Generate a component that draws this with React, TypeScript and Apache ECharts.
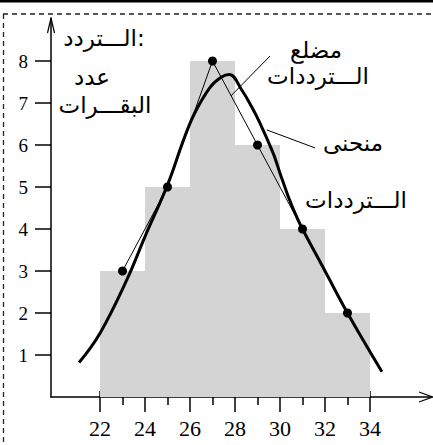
import React, { useEffect, useRef } from "react";
import * as echarts from "echarts";

// Histogram classes (cattle weights) and frequencies
const classStarts = [22, 24, 26, 28, 30, 32];
const classEnds = [24, 26, 28, 30, 32, 34];
const frequencies = [3, 5, 8, 6, 4, 2];
// Frequency polygon points (class midpoints)
const midpoints = [23, 25, 27, 29, 31, 33];
// Frequency curve (hand drawn smooth curve)
const curveX = [21.07, 22.0, 23.2, 24.0, 25.0, 25.7, 26.2, 26.9, 27.4, 27.75, 28.3, 28.74, 29.11, 29.7, 30.0, 30.37, 30.74, 31.0, 32.0, 33.0, 34.53];
const curveY = [0.82, 1.52, 2.8, 3.82, 5.05, 6.1, 6.75, 7.38, 7.62, 7.68, 7.31, 6.91, 6.52, 5.8, 5.33, 4.77, 4.29, 4.0, 3.0, 2.0, 0.6];
// Ticks
const xMajorTicks = [22, 24, 26, 28, 30, 32, 34];
const xMinorTicks = [23, 25, 27, 29, 31, 33];
const yTicks = [1, 2, 3, 4, 5, 6, 7, 8];
// Annotation texts
const yAxisTitle = ["الـــتردد:", "عدد", "البقـــرات"];
const polygonLabel = ["مضلع", "الـــترددات"];
const curveLabel = ["منحنى", "الـــترددات"];
// Pointer lines (data coordinates)
const polygonPointer = [[29.56, 8.12], [27.82, 7.17]];
const curvePointer = [[29.41, 6.36], [31.56, 5.93]];

const X_MIN = 19.822;
const X_MAX = 36.756;
const Y_MAX = 9.024;
const SERIF = "'Liberation Serif', 'Times New Roman', 'DejaVu Serif', serif";

export default function App() {
  const ref = useRef<HTMLDivElement>(null);
  useEffect(() => {
    if (!ref.current) return;
    const chart = echarts.init(ref.current, null, { renderer: "svg" });
    const txt = (text: string, x: number, y: number) => ({
      type: "text",
      style: {
        text, x, y, align: "center", verticalAlign: "middle",
        fontSize: 23, fontFamily: "DejaVu Sans", fill: "#000",
      },
      z: 100,
    });
    const baseX = {
      type: "value",
      min: X_MIN,
      max: X_MAX,
      position: "bottom",
      splitLine: { show: false },
    };
    chart.setOption({
      animation: false,
      grid: { left: 51, top: 18, width: 381, height: 379 },
      xAxis: [
        {
          ...baseX,
          axisLine: { show: true, lineStyle: { color: "#000", width: 1.5 } },
          axisTick: { show: true, customValues: xMajorTicks, length: 15, lineStyle: { color: "#000", width: 1.5 } },
          axisLabel: {
            show: true,
            customValues: xMajorTicks,
            margin: 20,
            fontSize: 22,
            fontFamily: SERIF,
            color: "#000",
          },
        },
        {
          ...baseX,
          axisLine: { show: false },
          axisTick: { show: true, inside: true, customValues: xMajorTicks, length: 6, lineStyle: { color: "#000", width: 1.5 } },
          axisLabel: { show: false },
        },
        {
          ...baseX,
          axisLine: { show: false },
          axisTick: { show: true, customValues: xMinorTicks, length: 8, lineStyle: { color: "#000", width: 1.5 } },
          axisLabel: { show: false },
        },
      ],
      yAxis: {
        type: "value",
        min: 0,
        max: Y_MAX,
        splitLine: { show: false },
        axisLine: { show: true, lineStyle: { color: "#000", width: 1.5 } },
        axisTick: { show: true, customValues: yTicks, length: 16, lineStyle: { color: "#000", width: 1.5 } },
        axisLabel: {
          show: true,
          customValues: yTicks,
          margin: 23,
          fontSize: 19,
          fontFamily: SERIF,
          color: "#000",
          padding: [0, 0, 4, 0],
        },
      },
      series: [
        {
          type: "custom",
          xAxisIndex: 0,
          z: 1,
          data: classStarts.map((s, i) => [s, classEnds[i], frequencies[i]]),
          encode: { x: [0, 1], y: 2 },
          renderItem: (params: any, api: any) => {
            const p0 = api.coord([api.value(0), api.value(2)]);
            const p1 = api.coord([api.value(1), 0]);
            return {
              type: "rect",
              shape: { x: p0[0], y: p0[1], width: p1[0] - p0[0], height: p1[1] - p0[1] },
              style: { fill: "#d4d4d4" },
            };
          },
        },
        {
          type: "line",
          xAxisIndex: 0,
          z: 3,
          data: midpoints.map((m, i) => [m, frequencies[i]]),
          symbol: "circle",
          symbolSize: 9,
          itemStyle: { color: "#000" },
          lineStyle: { color: "#000", width: 1 },
          markLine: {
            silent: true,
            symbol: "none",
            label: { show: false },
            lineStyle: { color: "#000", width: 1, type: "solid" },
            data: [
              [{ coord: polygonPointer[0] }, { coord: polygonPointer[1] }],
              [{ coord: curvePointer[0] }, { coord: curvePointer[1] }],
            ],
          },
        },
        {
          type: "line",
          xAxisIndex: 0,
          z: 4,
          data: curveX.map((x, i) => [x, curveY[i]]),
          smooth: 0.4,
          showSymbol: false,
          lineStyle: { color: "#000", width: 3 },
        },
      ],
      graphic: [
        { type: "rect", shape: { x: 0, y: 0, width: 433, height: 2.5 }, style: { fill: "#000" } },
        { type: "line", shape: { x1: 3, y1: 14, x2: 433, y2: 14 }, style: { stroke: "#222", lineWidth: 1.3, lineDash: [5, 4] } },
        { type: "line", shape: { x1: 3.5, y1: 14, x2: 3.5, y2: 445 }, style: { stroke: "#222", lineWidth: 1.3, lineDash: [5, 4] } },
        { type: "polyline", shape: { points: [[47.5, 33], [51, 18], [54.5, 33]] }, style: { stroke: "#000", lineWidth: 1.2, fill: null } },
        { type: "polyline", shape: { points: [[419, 392], [432.5, 397], [419, 402]] }, style: { stroke: "#000", lineWidth: 1.2, fill: null } },
        txt(yAxisTitle[0], 104, 38),
        txt(yAxisTitle[1], 92, 77),
        txt(yAxisTitle[2], 105, 105),
        txt(polygonLabel[0], 316, 50),
        txt(polygonLabel[1], 318, 76),
        txt(curveLabel[0], 353, 143),
        txt(curveLabel[1], 356, 200),
      ],
    });
    return () => chart.dispose();
  }, []);
  return (
    <div
      ref={ref}
      style={{ position: "fixed", left: 0, top: 0, width: 433, height: 445, background: "#fff" }}
    />
  );
}
